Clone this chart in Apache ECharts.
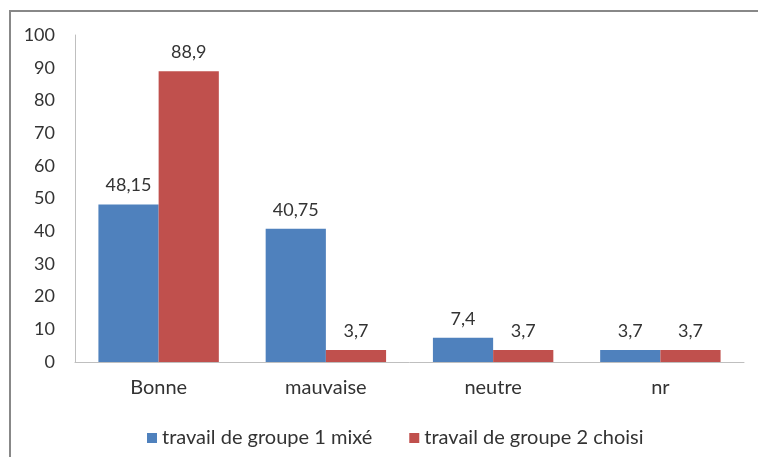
<!DOCTYPE html>
<html><head><meta charset="utf-8">
<script src="https://cdn.jsdelivr.net/npm/echarts@6/dist/echarts.min.js"></script>
<style>html,body{margin:0;padding:0;background:#fff}#c{width:758px;height:457px}</style>
</head><body><div id="c"></div>
<script>
const categories = ['Bonne', 'mauvaise', 'neutre', 'nr'];
const seriesNames = ['travail de groupe 1 mixé', 'travail de groupe 2 choisi'];
const group1 = [48.15, 40.75, 7.4, 3.7];
const group2 = [88.9, 3.7, 3.7, 3.7];
const colors = ['#4f81bd', '#c0504d'];
const font = 'Lato, "Open Sans", sans-serif';
const fmt = p => String(p.value).replace('.', ',');
const chart = echarts.init(document.getElementById('c'));
chart.setOption({
  animation: false,
  textStyle: {fontFamily: font},
  graphic: [{type: 'rect', shape: {x: 10, y: 11, width: 760, height: 460}, style: {fill: 'none', stroke: '#888', lineWidth: 2}}],
  grid: {left: 75, right: 14, top: 35, bottom: 95},
  legend: {top: 423, left: 142, itemWidth: 10, itemHeight: 10, itemGap: 37, icon: 'rect',
    textStyle: {fontSize: 20, color: '#333', fontFamily: font}, data: seriesNames},
  xAxis: {type: 'category', data: categories,
    axisLine: {lineStyle: {color: '#bfbfbf', width: 1}}, axisTick: {show: false},
    axisLabel: {fontSize: 20, color: '#333', margin: 16, fontFamily: font}},
  yAxis: {type: 'value', min: 0, max: 100, interval: 10,
    axisLine: {show: true, lineStyle: {color: '#bfbfbf'}}, axisTick: {show: false}, splitLine: {show: false},
    axisLabel: {fontSize: 18, color: '#333', margin: 20, fontFamily: font}},
  series: [
    {name: seriesNames[0], type: 'bar', data: group1, barGap: '0%', barCategoryGap: '28%', itemStyle: {color: colors[0]},
     label: {show: true, position: 'top', distance: 10, fontSize: 18, color: '#333', fontFamily: font, formatter: fmt}},
    {name: seriesNames[1], type: 'bar', data: group2, barGap: '0%', barCategoryGap: '28%', itemStyle: {color: colors[1]},
     label: {show: true, position: 'top', distance: 10, fontSize: 18, color: '#333', fontFamily: font, formatter: fmt}}
  ]
});
</script></body></html>
